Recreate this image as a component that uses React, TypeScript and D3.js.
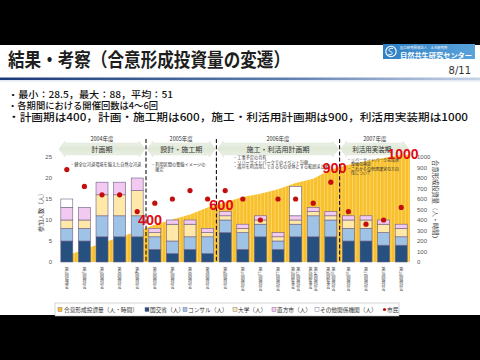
import React from "react";
import * as d3 from "d3";

// ---------- data ----------
const categories = [
  "第1回協議会", "第1回検討会", "第2回検討会", "第3回検討会", "第4回検討会",
  "第5回検討会", "第6回検討会", "第7回検討会", "第8回検討会",
  "第9回検討会", "第10回検討会", "第11回検討会", "第12回検討会",
  "第13回検討会|第1回幹事会", "第14回検討会|第2回幹事会", "第15回検討会|第3回幹事会",
  "第16回検討会", "第17回検討会", "第18回検討会", "第19回検討会",
];
const mlit = [5, 5, 6, 6, 6, 3, 2, 3, 2, 7, 3, 6, 3, 6, 6, 6, 5, 5, 4, 4];
const consultant = [3, 3, 5, 5, 5, 3, 3, 3, 4, 3, 4, 3, 2, 3, 5, 4, 3, 3, 3, 2];
const university = [2, 2, 5, 5, 6, 1, 4, 3, 1, 1, 1, 1, 1, 1, 1, 1, 2, 2, 2, 2];
const nogataCity = [3, 3, 3, 3, 3, 1, 1, 1, 1, 1, 1, 1, 1, 1, 1, 1, 1, 1, 1, 1];
const otherOrgs = [2, 0, 0, 0, 0, 0, 0, 0, 0, 0, 0, 0, 0, 7, 0, 0, 0, 0, 0, 0];
const citizens = [22, 18, 16, 16, 12, 14, 15, 17, 15, 17, 15, 10, 15, 15, 14, 19, 12, 9, 10, 13];
const investment = [60, 62, 58, 55, 57, 63, 50, 47, 68, 50, 48, 33, 42, 60, 40, 88, 45, 35, 28.5, 32];

const periodYears = ["2004年度", "2005年度", "2006年度", "2007年度"];
const periodNames = ["計画期", "設計・施工期", "施工・利活用計画期", "利活用実装期"];
const periodCounts = [5, 4, 7, 4];
const periodTargets = [400, 600, 900, 1000];
const periodNotes = [
  ["・健全な河道環境を備えた自然な河道"],
  ["・利用区間の整備イメージの", "　確定"],
  ["・工事予定の共有", "・リバーサイドパークでのイベント計画", "・護岸を利活用しできるもの全体とする範囲まとめ"],
  ["・リバーサイドパーク完成後", "　整備の検証", "・これからの管理運営の方向", "　性について"],
];
const leftTicks = [0, 5, 10, 15, 20, 25];
const rightTicks = [0, 100, 200, 300, 400, 500, 600, 700, 800, 900, 1000];
const bullets = [
  "・最小：28.5，最大：88，平均：51",
  "・各期間における開催回数は4～6回",
  "・計画期は400，計画・施工期は600，施工・利活用計画期は900，利活用実装期は1000",
];

const JP = "'Noto Sans CJK JP', 'Noto Sans', sans-serif";
const keys = ["mlit", "consultant", "university", "city", "other"];
const colors: Record<string, string> = {
  mlit: "#25507f",
  consultant: "#9fc3e6",
  university: "#ffe8a8",
  city: "#f2c9f0",
  other: "#ffffff",
};
const legendItems = [
  { key: "area", label: "合意形成投資量（人・時間）", mx: 58, tx: 64 },
  { key: "mlit", label: "国交省（人）", mx: 145, tx: 150 },
  { key: "consultant", label: "コンサル（人）", mx: 183, tx: 188 },
  { key: "university", label: "大学（人）", mx: 233, tx: 238 },
  { key: "city", label: "直方市（人）", mx: 272, tx: 277 },
  { key: "other", label: "その他関係機関（人）", mx: 315, tx: 320 },
  { key: "dot", label: "市民", mx: 383, tx: 387 },
];

export default function App() {
  const x = d3.scaleBand<string>().domain(categories).range([58, 410]).paddingInner(0.32).paddingOuter(0.16);
  const yL = d3.scaleLinear().domain([0, 25]).range([262, 157]);
  const yR = d3.scaleLinear().domain([0, 1000]).range([262, 157]);
  const bw = x.bandwidth();
  const cx = (i: number) => (x(categories[i]) as number) + bw / 2;

  const table = categories.map((c, i) => ({
    cat: c, mlit: mlit[i], consultant: consultant[i], university: university[i], city: nogataCity[i], other: otherOrgs[i],
  }));
  const stacked = d3.stack<any>().keys(keys)(table);
  const cumulative = Array.from(d3.cumsum(investment));
  const areaPts: [number, number][] = categories.map((c, i) => [cx(i), cumulative[i]]);
  areaPts.push([410, cumulative[cumulative.length - 1]]);
  const areaGen = d3.area<[number, number]>().x((d) => d[0]).y0(yR(0)).y1((d) => yR(d[1]));

  const ends = Array.from(d3.cumsum(periodCounts));
  const bounds = ends.map((e, i) => (i < ends.length - 1 ? (cx(e - 1) + cx(e)) / 2 : 410));
  const starts = [58, ...bounds.slice(0, -1)];
  const targetDx = [4, 5, -5, -7];
  const targetDy = [0, 6, 0, -3];
  const noteX = [70, 151, 233, 347];
  const noteY = [166, 166, 159, 161.5];
  const noteSize = [4.2, 4.2, 4.2, 4.0];
  const labelDx = [0, 0, 0, -3];
  const bulletY = [97.5, 109, 121];
  const bulletLen = [165, 150, 460];

  const arrow = (x0: number, x1: number, yc: number) => {
    const h = 6, hh = 8, t = 7;
    return `M${x0 + 1},${yc} L${x0 + t},${yc - hh} L${x0 + t},${yc - h} L${x1 - t},${yc - h} L${x1 - t},${yc - hh} L${x1 - 1},${yc} L${x1 - t},${yc + hh} L${x1 - t},${yc + h} L${x0 + t},${yc + h} L${x0 + t},${yc + hh} Z`;
  };

  return (
    <svg width={480} height={360} style={{ position: "absolute", left: 0, top: 0 }} fontFamily={JP}>
      <defs>
        <pattern id="stripes" width={3.52} height={10} patternUnits="userSpaceOnUse">
          <rect width={3.52} height={10} fill="#f8c02c" />
          <rect x={0} width={0.9} height={10} fill="#fbd66c" />
        </pattern>
        <linearGradient id="rule" x1="0" x2="1" y1="0" y2="0">
          <stop offset="0" stopColor="#1d3a78" />
          <stop offset="0.6" stopColor="#5f7fb0" />
          <stop offset="1" stopColor="#c7d3e6" />
        </linearGradient>
        <linearGradient id="logo" x1="0" x2="1" y1="0" y2="0">
          <stop offset="0" stopColor="#2f7fc4" />
          <stop offset="1" stopColor="#5aa3dc" />
        </linearGradient>
        <linearGradient id="arrowFill" x1="0" x2="0" y1="0" y2="1">
          <stop offset="0" stopColor="#eef2ea" />
          <stop offset="0.5" stopColor="#dfe8d6" />
          <stop offset="1" stopColor="#eef2ea" />
        </linearGradient>
      </defs>
      <rect width={480} height={360} fill="#000" />
      <rect x={0} y={45} width={480} height={270} fill="#fff" />

      {/* header */}
      <text x={8} y={67} fontSize={19} fontWeight={700} fill="#1e1e1e" textLength={282} lengthAdjust="spacingAndGlyphs">
        結果・考察（合意形成投資量の変遷）
      </text>
      <rect x={383} y={44} width={92} height={15} fill="url(#logo)" />
      <circle cx={391} cy={51.5} r={5.2} fill="none" stroke="#fff" strokeWidth={1.1} />
      <path d="M393,48.5 C389,47.5 387.5,50.5 390.5,51.5 C393.5,52.5 392.5,55.5 388.5,54.5" fill="none" stroke="#fff" strokeWidth={1} />
      <text x={400} y={48.6} fontSize={3.4} fill="#fff">国立研究開発法人　土木研究所</text>
      <text x={400} y={57.6} fontSize={7} fill="#fff" fontWeight={700} textLength={72} lengthAdjust="spacingAndGlyphs">自然共生研究センター</text>
      <text x={471} y={74} fontSize={10} fill="#333" textAnchor="end" fontFamily="'DejaVu Sans', sans-serif">8/11</text>
      <rect x={0} y={77.5} width={480} height={2.5} fill="url(#rule)" />
      <rect x={0} y={80.5} width={480} height={0.8} fill="#c9d3e3" />

      {/* bullets */}
      {bullets.map((b, i) => (
        <text key={i} x={8} y={bulletY[i]} fontSize={i < 2 ? 9.2 : 10.3} fill="#111" fontWeight={500}
          textLength={bulletLen[i]} lengthAdjust="spacingAndGlyphs">
          {b}
        </text>
      ))}

      {/* cumulative area */}
      <path d={areaGen(areaPts) as string} fill="url(#stripes)" />

      {/* stacked bars */}
      {stacked.map((layer) => (
        <g key={layer.key}>
          {layer.map((d, i) =>
            d[1] - d[0] > 0 ? (
              <rect
                key={i}
                x={x(categories[i])}
                width={bw}
                y={yL(d[1])}
                height={yL(d[0]) - yL(d[1])}
                fill={colors[layer.key]}
                stroke="#6d5f86"
                strokeWidth={0.6}
              />
            ) : null
          )}
        </g>
      ))}

      {/* citizens dots */}
      {citizens.map((v, i) => (
        <circle key={i} cx={cx(i)} cy={yL(v)} r={2.6} fill="#c40d0d" />
      ))}

      {/* period headers & boundaries */}
      {periodNames.map((name, i) => {
        const mid = (starts[i] + bounds[i]) / 2;
        return (
          <g key={name}>
            <text x={mid} y={140.5} fontSize={5.5} textAnchor="middle" fill="#333">{periodYears[i]}</text>
            <path d={arrow(starts[i], bounds[i], 149)} fill="url(#arrowFill)" stroke="#d6dfcf" strokeWidth={0.4} />
            <text x={mid + labelDx[i]} y={151.5} fontSize={i === 3 ? 6.5 : 7} textAnchor="middle" fill="#333">{name}</text>
            {periodNotes[i].map((n, j) => (
              <text key={j} x={noteX[i]} y={noteY[i] + j * 4.6} fontSize={noteSize[i]} fill="#333">{n}</text>
            ))}
          </g>
        );
      })}
      {bounds.slice(0, -1).map((b, i) => (
        <line key={i} x1={b} x2={b} y1={139} y2={263} stroke="#111" strokeWidth={1.1} strokeDasharray="4,2.2" />
      ))}
      {periodTargets.map((t, i) => (
        <text
          key={t}
          x={bounds[i] + targetDx[i]}
          y={yR(t) + targetDy[i]}
          fontSize={i === 3 ? 14 : 14.5}
          fontWeight={700}
          fill="#e00a12"
          textAnchor="middle"
          dominantBaseline="central"
          fontFamily="'Liberation Sans', Arial, sans-serif"
        >
          {t}
        </text>
      ))}

      {/* axes */}
      {leftTicks.map((t) => (
        <text key={t} x={52} y={yL(t)} fontSize={6} fill="#555" textAnchor="end" dominantBaseline="central"
          fontFamily="'Liberation Sans', Arial, sans-serif">{t}</text>
      ))}
      {rightTicks.map((t) => (
        <text key={t} x={417} y={yR(t)} fontSize={6} fill="#555" dominantBaseline="central"
          fontFamily="'Liberation Sans', Arial, sans-serif">{t}</text>
      ))}
      <text transform="translate(40,211) rotate(-90)" fontSize={6} fill="#333" textAnchor="middle" dominantBaseline="central">
        参加人数（人）
      </text>
      <text transform="translate(435,201) rotate(90)" fontSize={6.3} fill="#333" textAnchor="middle" dominantBaseline="central">
        合意形成投資量（人・時間）
      </text>

      {/* category labels (vertical) */}
      {categories.map((c, i) => {
        const parts = c.split("|");
        return parts.map((p, j) => (
          <text
            key={i + "-" + j}
            x={cx(i) + (parts.length > 1 ? (j === 0 ? 2.6 : -2.6) : 0)}
            y={267}
            fontSize={4}
            fill="#444"
            style={{ writingMode: "vertical-rl" as any }}
          >
            {p}
          </text>
        ));
      })}

      {/* legend */}
      <rect x={55} y={303} width={344} height={13} fill="#fff" stroke="#b5b5b5" strokeWidth={0.6} />
      {legendItems.map((it) => (
        <g key={it.key}>
          {it.key === "dot" ? (
            <circle cx={it.mx + 1.5} cy={309.5} r={1.6} fill="#c40d0d" />
          ) : (
            <rect x={it.mx} y={307.5} width={4} height={4}
              fill={it.key === "area" ? "#f8c02c" : colors[it.key]} stroke="#6d5f86" strokeWidth={0.4} />
          )}
          <text x={it.tx} y={309.8} fontSize={5.7} fill="#333" dominantBaseline="central">{it.label}</text>
        </g>
      ))}
    </svg>
  );
}
